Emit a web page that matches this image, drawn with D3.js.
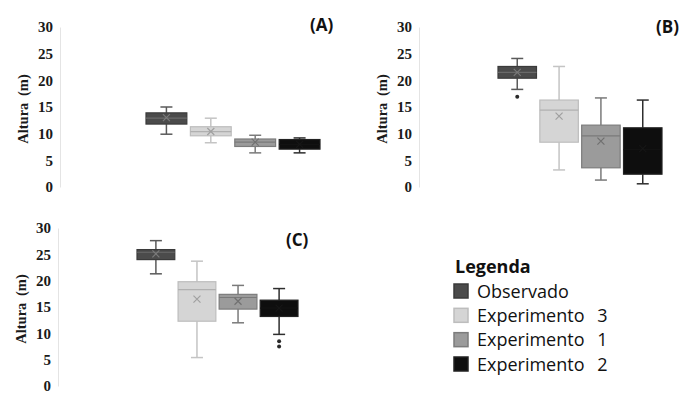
<!DOCTYPE html>
<html><head><meta charset="utf-8">
<script src="https://cdn.jsdelivr.net/npm/d3@7"></script>
<style>
html,body{margin:0;padding:0;background:#fff;}
svg{display:block;}
</style></head>
<body>
<svg id="chart" width="689" height="394"></svg>
<script>
// ---------- DATA ----------
const categories = ["Observado", "Experimento 3", "Experimento 1", "Experimento 2"];
const panelLabels = ["(A)", "(B)", "(C)"];
const yTicks = [0, 5, 10, 15, 20, 25, 30];
const legendTitle = "Legenda";
const yTitle = "Altura (m)";

// box statistics per panel, in category order: [min, q1, median, q3, max]
const statsA = [[9.9, 11.8, 12.9, 13.9, 15.0], [8.3, 9.6, 10.4, 11.3, 12.9], [6.4, 7.6, 8.4, 9.0, 9.7], [6.4, 7.1, 8.0, 8.9, 9.2]];
const statsB = [[18.3, 20.4, 21.5, 22.6, 24.1], [3.2, 8.4, 14.4, 16.3, 22.6], [1.3, 3.6, 9.6, 11.6, 16.7], [0.6, 2.4, 7.0, 11.1, 16.3]];
const statsC = [[21.3, 24.0, 25.4, 25.9, 27.6], [5.4, 12.3, 18.3, 19.8, 23.7], [12.0, 14.6, 16.8, 17.4, 19.1], [9.8, 13.2, 14.8, 16.3, 18.5]];
const meansA = [13.0, 10.4, 8.4, 8.0];
const meansB = [21.5, 13.3, 8.6, 7.2];
const meansC = [25.1, 16.5, 16.1, 14.8];
const outliersA = [[], [], [], []];
const outliersB = [[16.9], [], [], []];
const outliersC = [[], [], [], [8.5, 7.5]];

// ---------- STYLE ----------
const fills   = ["#4b4b4b", "#d5d5d5", "#9b9b9b", "#0e0e0e"];
const strokes = ["#3a3a3a", "#bdbdbd", "#7c7c7c", "#222222"];
const whisk   = ["#5a5a5a", "#c4c4c4", "#7a7a7a", "#2e2e2e"];
const medCol  = ["#6a6a6a", "#b0b0b0", "#7a7a7a", "#121212"];
const meanCol = ["#7a7a7a", "#a0a0a0", "#707070", "#161616"];

const panels = [
  {label: panelLabels[0], stats: statsA, means: meansA, outs: outliersA,
   axisX: 60, yRange: [187, 27], xRange: [146, 320], labelX: 310, labelY: 31, titleX: 23},
  {label: panelLabels[1], stats: statsB, means: meansB, outs: outliersB,
   axisX: 419, yRange: [187, 27], xRange: [498, 662], labelX: 656, labelY: 33, titleX: 382},
  {label: panelLabels[2], stats: statsC, means: meansC, outs: outliersC,
   axisX: 58, yRange: [386, 228], xRange: [137, 298], labelX: 286, labelY: 246, titleX: 21}
];

const svg = d3.select("#chart");

panels.forEach(p => {
  const g = svg.append("g");
  const y = d3.scaleLinear().domain([0, 30]).range(p.yRange);
  const x = d3.scaleBand().domain(categories).range(p.xRange).paddingInner(0.08).paddingOuter(0);

  const axis = d3.axisLeft(y).tickValues(yTicks).tickSize(0).tickPadding(7);
  const ag = g.append("g").attr("transform", `translate(${p.axisX},0)`).call(axis);
  ag.select(".domain").attr("stroke", "#e4e4e4");
  ag.selectAll("text")
    .attr("font-family", "'Liberation Serif', 'Times New Roman', serif")
    .attr("font-weight", "bold").attr("font-size", 15).attr("fill", "#1a1a1a");

  const yMid = (p.yRange[0] + p.yRange[1]) / 2 + 2;
  g.append("text")
    .attr("transform", `translate(${p.titleX},${yMid}) rotate(-90)`)
    .attr("text-anchor", "middle").attr("dominant-baseline", "central")
    .attr("font-family", "'Liberation Serif', 'Times New Roman', serif")
    .attr("font-weight", "bold").attr("font-size", 14.5).attr("fill", "#1a1a1a")
    .attr("word-spacing", 3)
    .text(yTitle);

  g.append("text")
    .attr("x", p.labelX).attr("y", p.labelY)
    .attr("font-family", "'Open Sans', sans-serif").attr("font-weight", "bold")
    .attr("font-size", 17).attr("fill", "#111")
    .text(p.label);

  categories.forEach((c, i) => {
    const s = p.stats[i];
    const cx = x(c) + x.bandwidth() / 2;
    const bw = x.bandwidth();
    const cap = 6;
    // whiskers
    g.append("line").attr("x1", cx).attr("x2", cx).attr("y1", y(s[4])).attr("y2", y(s[3]))
      .attr("stroke", whisk[i]).attr("stroke-width", 1.5);
    g.append("line").attr("x1", cx).attr("x2", cx).attr("y1", y(s[1])).attr("y2", y(s[0]))
      .attr("stroke", whisk[i]).attr("stroke-width", 1.5);
    g.append("line").attr("x1", cx - cap).attr("x2", cx + cap).attr("y1", y(s[4])).attr("y2", y(s[4]))
      .attr("stroke", whisk[i]).attr("stroke-width", 1.5);
    g.append("line").attr("x1", cx - cap).attr("x2", cx + cap).attr("y1", y(s[0])).attr("y2", y(s[0]))
      .attr("stroke", whisk[i]).attr("stroke-width", 1.5);
    // box
    g.append("rect").attr("x", x(c)).attr("width", bw)
      .attr("y", y(s[3])).attr("height", y(s[1]) - y(s[3]))
      .attr("fill", fills[i]).attr("stroke", strokes[i]).attr("stroke-width", 1.2);
    // median
    g.append("line").attr("x1", x(c)).attr("x2", x(c) + bw).attr("y1", y(s[2])).attr("y2", y(s[2]))
      .attr("stroke", medCol[i]).attr("stroke-width", 1.2);
    // mean marker (x)
    const my = y(p.means[i]), m = 3.5;
    g.append("path")
      .attr("d", `M${cx - m},${my - m}L${cx + m},${my + m}M${cx - m},${my + m}L${cx + m},${my - m}`)
      .attr("stroke", meanCol[i]).attr("stroke-width", 1.2).attr("fill", "none");
    // outliers
    p.outs[i].forEach(v => {
      g.append("circle").attr("cx", cx).attr("cy", y(v)).attr("r", 2)
        .attr("fill", "#2a2a2a");
    });
  });
});

// ---------- LEGEND ----------
const lg = svg.append("g");
lg.append("text").attr("x", 455).attr("y", 273)
  .attr("font-family", "'Open Sans', sans-serif").attr("font-weight", "bold")
  .attr("font-size", 18).attr("fill", "#111").text(legendTitle);
const ly = d3.scalePoint().domain(categories).range([291, 364]);
categories.forEach((c, i) => {
  lg.append("rect").attr("x", 454).attr("y", ly(c) - 7).attr("width", 14).attr("height", 14)
    .attr("fill", fills[i]).attr("stroke", strokes[i]).attr("stroke-width", 1.5);
  lg.append("text").attr("x", 477).attr("y", ly(c) + 6.5)
    .attr("font-family", "'Open Sans', sans-serif").attr("font-size", 18)
    .attr("fill", "#111").attr("word-spacing", 8).text(c);
});
</script>
</body></html>
